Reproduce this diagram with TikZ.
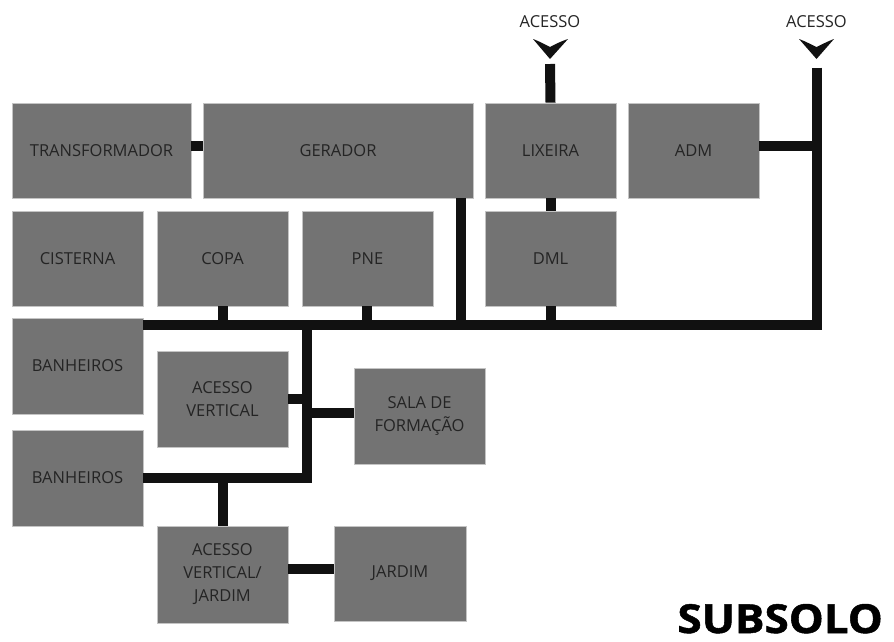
\documentclass[tikz,border=0pt]{standalone}
\usepackage{fontspec}
\setmainfont{Open Sans}
\newfontfamily\subfont[FakeBold=1.2]{Open Sans}
\begin{document}
\begin{tikzpicture}[x=1pt,y=-1pt,
  room/.style={fill=boxgray,draw=boxedge,line width=0.8pt,inner sep=0pt,
    text=txtgray,font=\fontsize{16.5}{23}\selectfont,align=center},
  wire/.style={line width=10pt,draw=wireblack,line join=miter,line cap=butt},
  lbl/.style={text=txtgray,font=\fontsize{16.5}{20}\selectfont,inner sep=0pt}]
\definecolor{boxgray}{HTML}{737373}
\definecolor{boxedge}{HTML}{C4C4C4}
\definecolor{txtgray}{HTML}{242424}
\definecolor{wireblack}{HTML}{111111}
\useasboundingbox (0,0) rectangle (894,641);
\newcommand{\roombox}[6]{\node[room,minimum width={#4-#2},minimum height={#5-#3}] (#1) at ({(#2+#4)/2},{(#3+#5)/2}) {#6};}
\roombox{trans}{12}{103}{191}{198}{TRANSFORMADOR}
\roombox{ger}{203}{103}{473}{198}{GERADOR}
\roombox{lix}{485}{103}{616}{198}{LIXEIRA}
\roombox{adm}{628}{103}{759}{198}{ADM}
\roombox{cist}{12}{211}{143}{306}{CISTERNA}
\roombox{copa}{157}{211}{288}{306}{COPA}
\roombox{pne}{302}{211}{433}{306}{PNE}
\roombox{dml}{485}{211}{616}{306}{DML}
\roombox{banA}{12}{318}{143}{414}{BANHEIROS}
\roombox{av}{157}{351}{288}{447}{ACESSO\\VERTICAL}
\roombox{sala}{354}{368}{485}{464}{SALA DE\\FORMAÇÃO}
\roombox{banB}{12}{430}{143}{526}{BANHEIROS}
\roombox{avj}{157}{526}{288}{623}{ACESSO\\VERTICAL/\\JARDIM}
\roombox{jard}{334}{526}{466}{621}{JARDIM}
% access labels and arrows
\node[lbl] (acA) at (550,21.5) {ACESSO};
\node[lbl] (acB) at (816.5,21.5) {ACESSO};
\coordinate (topA) at (550,64);
\coordinate (topB) at (816.5,67.5);
\coordinate (corner) at (816.5,325);
\coordinate (trunkTop) at (307,325);
\coordinate (trunkBot) at (307,477.7);
\fill[wireblack] (533,39) .. controls (541,42) and (546,45) .. (550,47) .. controls (554,45) and (559,42) .. (568,39) -- (550,59) -- cycle;
\fill[wireblack] (799,39) .. controls (807,42) and (812,45) .. (816.5,47) .. controls (821,45) and (826,42) .. (834,39) -- (816.5,59) -- cycle;
% wires
\draw[wire] (trans.east |- 0,145.5) -- (ger.west |- 0,145.5);
\draw[wire] (topA) -- (lix.north);
\draw[wire] (lix.south) -- (dml.north);
\draw[wire] (topB) -- (corner) -- (banA.east |- corner);
\draw[wire] (adm.east |- 0,145.5) -- (corner |- 0,145.5);
\draw[wire] (ger.south -| 460.5,0) -- (460.5,325);
\draw[wire] (copa.south) -- (copa.south |- corner);
\draw[wire] (pne.south -| 367,0) -- (367,325);
\draw[wire] (dml.south) -- (dml.south |- corner);
\draw[wire] (trunkTop) -- (trunkBot) -- (banB.east |- trunkBot);
\draw[wire] (av.east |- 0,398.5) -- (trunkTop |- 0,398.5);
\draw[wire] (trunkTop |- 0,413) -- (sala.west |- 0,413);
\draw[wire] (avj.north |- trunkBot) -- (avj.north);
\draw[wire] (avj.east |- 0,569) -- (jard.west |- 0,569);
\node[font=\fontsize{40}{40}\subfont\bfseries\selectfont,anchor=base east,inner sep=0pt,xscale=1.1] (sub) at (883,633) {SUBSOLO};
\end{tikzpicture}
\end{document}
